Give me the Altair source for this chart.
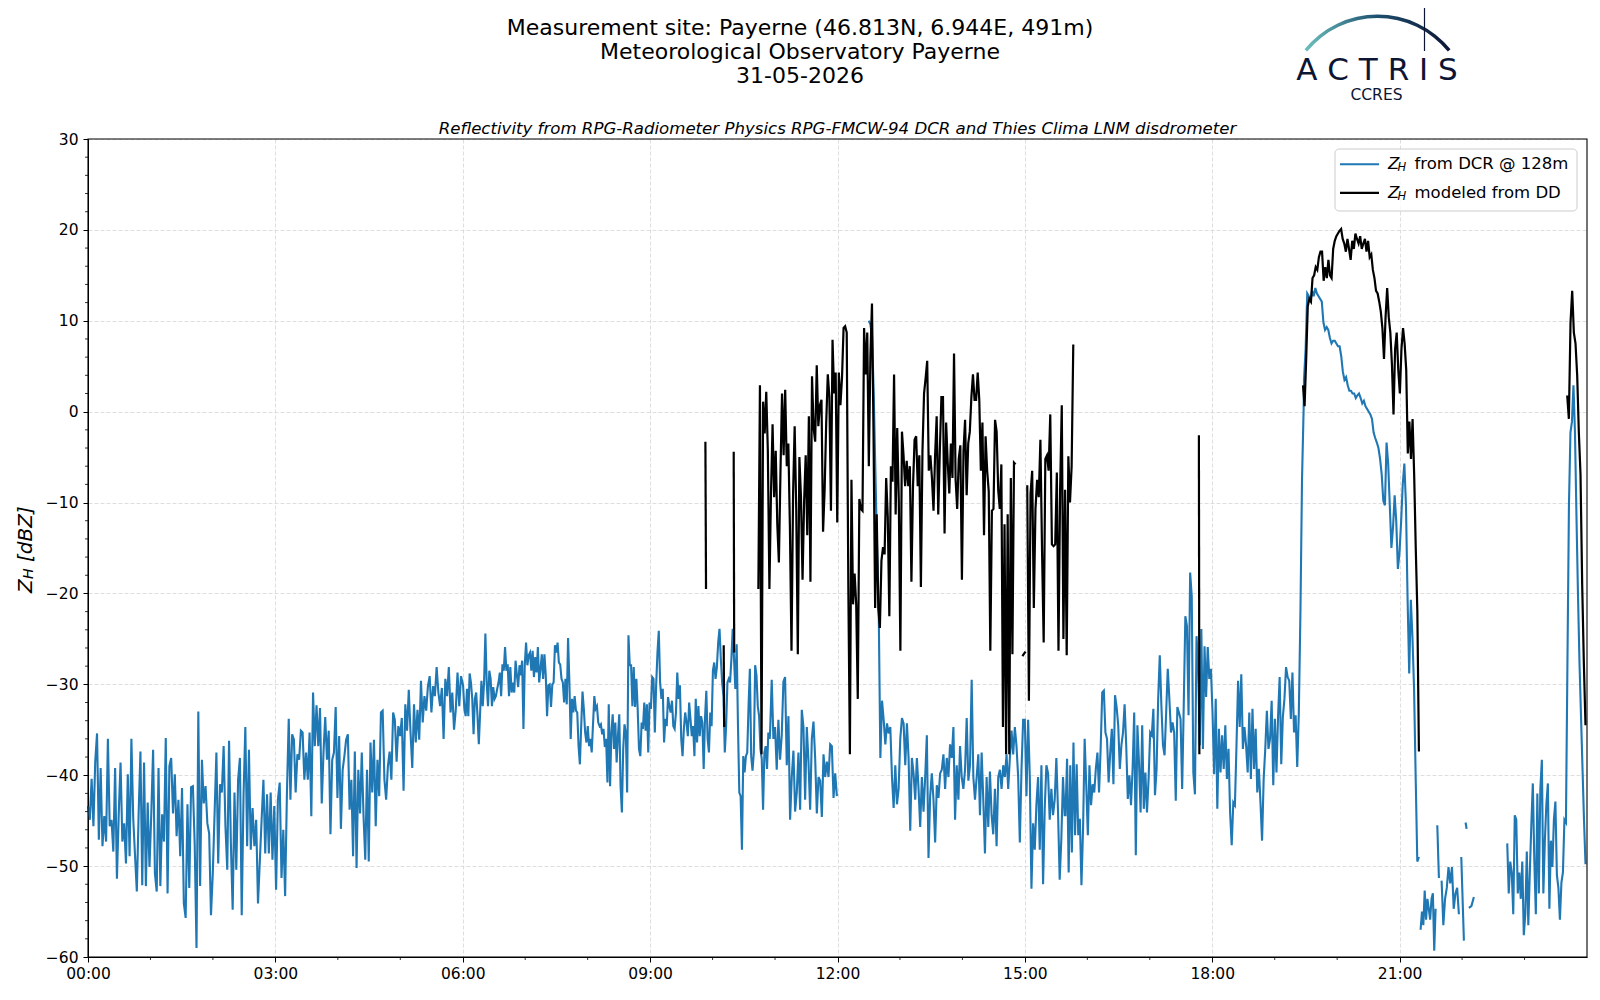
import numpy as np
import pandas as pd
import altair as alt

# ---------------- data (hours, dBZ) ----------------
blue_a1 = [-43.4,-44.9,-40.4,-45.6,-38.5,-35.4,-47.1,-39.2,-47.8,-44.5,-47.3,-36.0,-45.6,-44.9,-48.4,-39.2,-51.4,-44.2,-38.6,-47.3,
           -45.3,-49.7,-39.9,-48.9,-36.0,-44.7,-48.8,-52.8,-44.2,-37.4,-52.1,-38.6,-52.2,-43.0,-50.1,-44.2,-37.2,-50.8,-52.8,-39.2,
           -52.2,-44.3,-47.3,-35.9,-53.0,-39.0,-38.1,-44.2,-39.9,-46.7,-42.7,-48.9,-41.4,-54.1,-55.7,-43.2,-52.4,-41.3,-41.2,-47.6,
           -59.0,-33.0,-52.2,-38.3,-43.1,-41.2,-45.3,-46.4,-55.4,-50.8,-44.2,-37.5,-49.7,-41.0,-41.9,-36.8,-45.6,-50.4,-36.2,-47.5,
           -54.8,-41.9,-50.4,-40.5,-38.1,-55.4,-42.3,-34.7,-47.8,-37.2,-48.2,-43.6,-47.8,-44.9,-54.1,-49.5,-44.9,-40.5,-48.6,-42.1,
           -48.6,-41.9,-49.3,-43.4,-52.6,-42.7,-40.8,-51.3,-46.0,-53.3,-41.9,-33.8]
blue_a2 = [-42.7,-35.5,-36.1,-41.9,-37.7,-38.3,-35.1,-35.3,-40.5,-37.5,-40.5,-35.3,-44.5,-30.9,-36.8,-32.3,-36.8,-32.6,-43.1,-37.5,
           -33.6,-38.3,-35.1,-46.5,-38.3,-37.5,-32.5,-42.5,-35.7,-45.9,-39.4,-37.9,-36.1,-35.5,-43.8,-40.5,-48.9,-37.4,-50.2,-39.4,
           -44.2,-37.5,-44.5,-49.3,-39.4,-49.5,-36.4,-41.9,-36.1,-45.6,-38.3,-42.3,-33.1,-32.9,-40.5,-42.7,-39.0,-37.4,-40.5,-33.1,
           -33.9,-38.5,-34.6,-35.7,-33.7,-41.7,-32.2,-35.1,-30.6,-35.3,-39.2,-32.2,-36.4,-32.8,-36.1,-29.6,-34.2,-31.3,-32.9,-30.2,
           -29.1,-33.1,-30.2,-31.3,-28.1,-30.9,-32.4,-30.4,-36.0,-29.4,-31.3,-28.1,-33.1,-30.9,-35.0,-32.8,-28.7,-32.4,-29.1]
blue_a3 = [-30.1,-32.7,-33.5,-30.5,-33.5,-28.8,-29.8,-31.6,-35.5,-31.6,-30.9,-33.5,-36.6,-33.1,-29.6,-32.4,-29.8,-24.4,-29.8,-32.4,
           -28.5,-29.4,-32.4,-30.3,-31.6,-31.3,-30.5,-29.8,-28.7,-31.3,-27.8,-28.5,-25.9,-28.5,-27.8,-31.3,-28.1,-30.9,-29.8,-30.9,
           -27.4,-29.0,-30.3,-27.9,-29.0,-27.4,-34.9,-27.9,-25.4,-27.9,-26.8,-26.5,-28.5,-26.3,-29.2,-27.0,-28.7,-25.9,-29.8,-28.3,
           -26.7,-29.4,-26.7,-29.0,-33.5,-30.1,-30.0,-32.5,-30.0,-29.8,-25.7,-26.5,-25.4,-27.6,-27.8,-29.4,-29.8,-32.0,-29.4,-32.2,
           -24.9,-29.8,-36.0,-31.6,-33.1,-31.3,-32.9,-33.1,-36.8,-38.8,-34.6,-30.8,-32.7,-35.3,-36.4,-34.6,-36.8,-36.0,-37.5,-34.4,
           -31.3,-32.7,-32.4,-34.2,-34.6,-34.4,-35.5,-34.9,-36.9,-36.0,-40.8,-32.2,-41.2,-35.3,-33.3,-37.1,-34.2,-38.6,-35.7,-33.3,
           -41.2,-44.1,-37.1,-34.4,-35.3,-41.9,-24.6,-27.9]
blue_a4 = [-27.9,-32.4,-28.1,-32.5,-29.4,-32.7,-37.1,-37.9,-34.2,-34.9,-32.0,-35.1,-32.2,-37.5,-32.0,-32.7,-29.2,-29.4,-35.3,-30.1,
           -26.5,-24.1,-29.8,-31.6,-30.5,-36.4,-33.8,-34.6,-31.4,-32.4,-33.1,-31.8,-34.6,-34.9,-33.1,-28.7,-31.6,-30.1,-36.0,-37.9,
           -34.9,-33.1,-34.2,-35.7,-32.0,-33.8,-35.7,-34.6,-37.9,-31.6,-36.4,-32.4,-35.7,-33.5,-34.2,-39.3,-33.8,-30.7,-36.0,-37.5,
           -33.1,-34.6,-28.5,-27.6,-29.4,-28.1,-25.4,-23.9,-27.2,-29.8,-31.3,-37.5,-34.6,-29.8,-29.4,-29.8,-27.2,-23.9,-27.2,-30.5,
           -25.6,-34.6,-41.9,-42.3,-48.2,-37.9,-39.7,-37.9,-37.5,-32.4,-28.3,-37.9,-39.5,-37.5,-27.9,-29.0,-32.4,-33.5,-37.1,-38.2,
           -43.8,-37.5,-36.8,-39.3,-35.3,-36.0]
blue_a5 = [-35.4,-29.5,-36.0,-34.7,-39.4,-33.9,-38.3,-35.6,-29.7,-29.2,-38.9,-33.5,-44.9,-40.2,-37.3,-44.0,-41.9,-37.5,-43.8,-32.8,
           -34.7,-42.7,-34.7,-38.5,-43.8,-36.0,-34.1,-38.1,-44.2,-40.2,-40.6,-44.6,-37.7,-40.2,-38.5,-40.2,-36.6,-36.8,-42.5,-39.8,
           -42.3]
blue_b1 = [10.0,9.6,8.3,2.0,-6.5,-14.9,-21.6,-38.1,-31.8,-33.9,-36.6,-34.3,-35.4,-34.7,-40.2,-43.6,-38.9,-43.2,-41.5,-36.0,
           -33.7,-34.3,-38.9,-34.3,-38.1,-46.1,-38.1,-39.8,-42.7,-38.1,-41.5,-45.7,-40.2,-44.0,-40.2,-35.6,-49.1,-42.3,-39.8,-42.7,
           -47.4,-41.1,-42.5,-39.8,-39.4,-37.7,-41.5,-38.1,-40.2,-36.6,-38.1,-34.7,-44.9,-38.9,-42.7,-36.8,-40.2,-41.5,-39.4,-33.7,
           -40.6,-38.9,-29.5,-40.2,-42.7,-40.2,-37.7,-44.4,-37.5,-42.7,-48.6,-40.2,-45.7,-39.6,-44.4,-46.5,-41.5,-47.8,-40.2,-39.4,
           -41.5,-38.9,-40.2,-37.7,-41.5,-38.1,-35.1,-37.7,-34.7,-36.8,-40.2,-47.4,-39.4,-33.9,-33.9,-42.3,-33.9,-40.2,-52.5,-45.3,
           -48.2,-43.2,-40.2,-48.2,-38.9,-52.0,-43.6,-38.9,-39.8,-44.9,-41.5,-44.4,-42.7,-38.1,-44.0,-51.5,-47.0,-40.2,-44.4]
blue_b2 = [-44.4,-38.2,-50.7,-38.9,-48.5,-36.4,-46.6,-38.8,-46.6,-44.8,-52.1,-45.9,-36.0,-41.1,-46.6,-38.9,-43.3,-41.0,-41.9,-39.3,
           -37.5,-41.9,-37.1,-30.9,-30.7,-35.3,-36.0,-40.8,-37.5,-34.9,-41.0,-31.2,-32.5,-34.5,-39.3,-36.7,-35.3,-32.2,-36.7,-42.6,
           -40.0,-43.3,-39.3,-33.1,-48.8,-34.5,-38.6,-44.1,-34.5,-43.7,-39.7,-44.1,-40.4,-35.3,-35.6,-32.7,-42.2,-39.3,-31.6,-26.8,
           -32.3,-36.7,-37.8,-33.1,-28.3,-31.6,-35.3,-34.2,-35.3,-42.8,-32.5,-33.1,-33.8,-41.5,-32.3,-22.5,-23.6,-33.4,-17.7,-20.3,
           -39.7,-42.1,-24.7,-27.9,-36.7,-23.9,-37.1,-25.8,-31.4,-25.9,-29.4,-28.3,-33.1,-39.9,-31.6,-43.7,-34.9,-39.7,-35.6,-39.3,
           -34.5,-40.4,-37.1,-44.1,-47.7,-43.0,-43.3,-36.7,-29.6,-34.7,-28.9,-37.1,-34.7,-36.7,-39.7,-33.1,-40.4,-32.7,-39.3,-34.9,
           -41.9,-39.3,-43.0,-47.2,-40.4,-37.1,-32.9,-37.1,-36.0,-31.8,-41.1,-33.8,-39.7,-33.6,-29.2,-38.8,-33.6,-31.6,-28.1,-29.2,
           -29.6,-33.8,-28.7,-35.3,-33.4,-39.1,-33.1,-22.1,-7.4,0.3]
blue_b3 = [3.5,6.9,13.0,12.7,12.1,13.3,12.7,13.6,13.0,12.7,12.4,12.1,9.8,9.0,9.3,9.0,8.1,7.5,7.8,7.8,
           7.5,7.2,7.2,6.1,4.4,3.5,3.8,2.9,2.3,2.3,2.0,2.0,1.5,1.8,2.0,1.5,0.9,1.2,0.6,0.3,
           0.0,-0.3,-0.8,-2.3,-2.9,-3.4,-4.0,-5.2,-6.9,-9.8,-10.3,-3.4,-5.7,-10.3,-15.0,-12.7,-9.2,-12.1,-17.3,-15.5,
           -12.1,-8.0,-5.7,-10.3,-20.7,-28.8,-20.7,-24.8,-30.5,-40.3,-49.5,-49.0]
blue_c1 = [-57.0,-55.0,-56.5,-52.7,-55.9,-53.6,-54.7,-55.9,-53.6,-53.0,-59.3,-54.7]
blue_c2 = [-45.5,-51.3]
blue_c3 = [-51.6,-56.5,-53.6,-52.4,-50.1,-51.9,-50.1,-54.7,-53.0,-52.4,-55.3]
blue_c4 = [-49.0,-58.2]
blue_c5 = [-45.2,-45.9]
blue_c6 = [-54.6,-54.4,-53.4]
blue_d1 = [-47.5,-53.0,-49.5,-50.7,-55.3,-44.4,-44.9,-53.0,-50.7,-53.6,-49.5,-57.6,-55.3,-48.4,-56.5,-50.7,-45.5,-40.9,-49.5,-55.3,
           -42.0,-53.0,-41.5,-38.3,-53.0,-47.2,-43.2,-40.9,-54.7,-47.2,-50.1,-44.9,-42.9,-51.0,-52.4,-55.9,-51.8,-50.7,-44.9,-45.2,
           -27.6,-10.3,-2.3,-1.1,2.9,-2.3,-11.5,-20.1,-27.6,-33.4,-39.2,-44.9,-49.8]

black_k1 = [-3.3,-19.5]
black_k2 = [-25.7,-34.7]
black_k3 = [-4.4,-26.5]
black_k4 = [-19.5,2.9,-37.7,1.1,-2.4,2.2,-4.3,-19.5,-9.0,-1.4,-9.4,-4.3,-12.4,-16.6,-6.7,2.0,-4.8,2.4,-6.0,-3.5,
            -12.8,-26.3,-9.0,-1.6,-10.7,-26.7,-5.0,-9.4,-18.5,-9.8,-4.8,-13.6,-0.5,-18.7,3.9,-1.8,-3.3,5.1,-1.6,0.7,
            1.3,-13.2,-8.6,-1.2,4.1,1.6,-10.9,7.9,2.0,4.3,-12.2,4.3,0.7,3.7,9.2,9.4,8.7,-19.1,-37.7,-7.5,
            -21.2,-17.8,-21.2,-31.6,-9.6,-10.7,-10.9,9.2,4.1,8.7,-6.0,6.1,11.9,-2.7,-21.6,-11.3,-21.6,-23.8,-16.4,-14.9,
            -15.7,-7.3,-11.5,-22.5,-6.0,-7.7,4.1,-11.3,-1.8,-9.8,-26.3,-2.2,-4.8,-8.2,-5.4,-8.2,-6.0,-18.7,-8.2,-3.1,
            -2.7,-8.2,-4.8,-19.3,-4.3,2.0,3.7,5.6,-6.5,-4.8,-7.3,-10.9,-4.8,-0.5,-11.3,-4.3,1.6,1.6,-13.4,-1.2,
            -5.6,-9.0,-3.5,-7.3,6.4,-7.5,-10.7,-5.2,-3.7,-18.5,-4.3,-0.9,-9.2,-3.5,-2.2,1.6,4.1,1.3,1.3,4.3,
            1.3,-6.5,-1.2,-13.6,-2.7,-6.5,-8.8,-26.3,-10.9,-10.7,-0.9,-2.2,-8.6,-10.7,-5.8,-34.7,-12.4,-37.7,-11.3,-37.7,
            -7.3,-26.7,-5.6,-5.8]
black_k5 = [-26.9,-26.4]
black_k6 = [-8.1,-31.8,-9.0,-6.5,-21.6,-10.7,-7.5,-9.4,-3.1,-15.3,-25.4,-5.2,-4.8,-6.5,-0.3,-14.6,-14.8,-14.6,-6.7,-26.3,
            -8.6,0.7,-25.0,-8.6,-26.8,-4.9,-10.0,-6.0,7.4]
black_k7 = [-2.6,-37.7]
black_k8 = [2.9,0.6,5.8,11.6,12.4,12.1,14.7,15.0,15.9,15.6,17.0,17.6,17.6,14.4,15.9,14.7,16.7,15.0,14.7,17.9,
            18.8,19.3,19.6,19.9,20.1,19.0,18.5,17.6,19.0,17.9,16.7,18.8,17.9,19.6,19.0,18.5,19.3,17.9,18.5,19.0,
            17.6,18.8,17.0,17.3,15.6,14.7,13.3,13.0,12.1,11.0,9.2,5.8,10.4,13.6,10.4,8.7,5.2,-0.3,6.9,8.7,
            4.6,2.0,6.9,9.2,7.5,4.6,-4.6,-1.1,-5.2,-0.8,-6.9,-15.0,-21.9,-37.4]
black_k9 = [1.8,-0.8,9.8,13.3,8.7,7.5,4.0,-2.3,-6.9,-19.0,-27.6,-34.5]

# (segment id, first hour, last hour, values)
blue_chunks = [
    ("b1", 0.000, 3.214, blue_a1), ("b1", 3.241, 5.972, blue_a2), ("b1", 6.005, 8.674, blue_a3),
    ("b1", 8.695, 10.914, blue_a4), ("b1", 10.920, 11.990, blue_a5),
    ("b2", 12.500, 15.637, blue_b1), ("b2", 15.650, 19.463, blue_b2), ("b2", 19.469, 21.309, blue_b3),
    ("b3", 21.336, 21.576, blue_c1), ("b4", 21.603, 21.629, blue_c2), ("b5", 21.672, 21.949, blue_c3),
    ("b6", 21.987, 22.029, blue_c4), ("b7", 22.056, 22.072, blue_c5), ("b8", 22.109, 22.189, blue_c6),
    ("b9", 22.723, 23.976, blue_d1),
]
black_chunks = [
    ("k1", 9.885, 9.895, black_k1), ("k2", 10.178, 10.186, black_k2), ("k3", 10.338, 10.346, black_k3),
    ("k4", 10.733, 14.851, black_k4), ("k5", 14.960, 15.010, black_k5), ("k6", 15.038, 15.775, black_k6),
    ("k7", 17.786, 17.794, black_k7), ("k8", 19.453, 21.309, black_k8), ("k9", 23.683, 23.976, black_k9),
]

x_major = [0, 3, 6, 9, 12, 15, 18, 21]
x_minor = [h for h in range(1, 24) if h % 3 != 0]
y_major = list(range(-60, 31, 10))
y_minor = [v for v in range(-58, 30, 2) if v % 10 != 0]

title_lines = ["Measurement site: Payerne (46.813N, 6.944E, 491m)",
               "Meteorological Observatory Payerne", "31-05-2026"]
subtitle = "Reflectivity from RPG-Radiometer Physics RPG-FMCW-94 DCR and Thies Clima LNM disdrometer"
legend_labels = ["from DCR @ 128m", "modeled from DD"]


def build(chunks):
    rows = []
    for seg, t0, t1, vals in chunks:
        for t, v in zip(np.linspace(t0, t1, len(vals)), vals):
            rows.append({"t": float(t), "v": float(v), "seg": seg})
    return pd.DataFrame(rows)


blue_df = build(blue_chunks)
black_df = build(black_chunks)

W, H = 1499, 818
FONT = "DejaVu Sans"
BLUE = "#1f77b4"
NAVY = "#0d1535"

xscale = alt.Scale(domain=[0, 24], nice=False, zero=False)
yscale = alt.Scale(domain=[-60, 30], nice=False, zero=False)

axis_common = dict(grid=True, gridColor="#d5d5d5", gridDash=[4, 2], gridWidth=0.8,
                   tickSize=5, tickColor="black", tickWidth=1, domainColor="black",
                   domainWidth=1, labelColor="black", labelFont=FONT, labelFontSize=15.5,
                   labelFlush=False, labelOverlap=False, labelBound=False, title=None)
x_axis = alt.Axis(values=x_major, labelPadding=4,
                  labelExpr="(datum.value < 10 ? '0' : '') + datum.value + ':00'", **axis_common)
y_axis = alt.Axis(values=y_major, labelPadding=5, format="d", **axis_common)

blue = alt.Chart(blue_df).mark_line(color=BLUE, strokeWidth=2.1).encode(
    x=alt.X("t:Q", scale=xscale, axis=x_axis),
    y=alt.Y("v:Q", scale=yscale, axis=y_axis),
    detail="seg:N",
)

black = alt.Chart(black_df).mark_line(color="black", strokeWidth=2.2).encode(
    x=alt.X("t:Q", scale=xscale, axis=x_axis),
    y=alt.Y("v:Q", scale=yscale, axis=y_axis),
    detail="seg:N",
)

ymin_df = pd.DataFrame({"v": y_minor})
xmin_df = pd.DataFrame({"t": x_minor})
yminor = alt.Chart(ymin_df).mark_rule(color="black", strokeWidth=0.8).encode(
    y=alt.Y("v:Q", scale=yscale, axis=y_axis), x=alt.value(-3), x2=alt.value(0))
xminor = alt.Chart(xmin_df).mark_rule(color="black", strokeWidth=0.8).encode(
    x=alt.X("t:Q", scale=xscale, axis=x_axis), y=alt.value(H), y2=alt.value(H + 3))

one = pd.DataFrame({"k": [0]})


def txt(text, x, y, **kw):
    return alt.Chart(one).mark_text(text=text, **kw).encode(x=alt.value(x), y=alt.value(y))


# plot frame drawn on top (like matplotlib spines)
frame = alt.Chart(one).mark_rect(fillOpacity=0, stroke="black", strokeWidth=1.1).encode(
    x=alt.value(0), x2=alt.value(W), y=alt.value(0), y2=alt.value(H))

# legend
leg_box = alt.Chart(one).mark_rect(fill="white", fillOpacity=0.8, stroke="#cccccc",
                                   strokeWidth=1, cornerRadius=4).encode(
    x=alt.value(1247), x2=alt.value(1489), y=alt.value(10), y2=alt.value(72))
leg_l1 = alt.Chart(one).mark_rule(color=BLUE, strokeWidth=2.1).encode(
    x=alt.value(1252), x2=alt.value(1291), y=alt.value(25.3))
leg_l2 = alt.Chart(one).mark_rule(color="black", strokeWidth=2.2).encode(
    x=alt.value(1252), x2=alt.value(1291), y=alt.value(53.9))
legend_layers = [leg_box, leg_l1, leg_l2]
for yy, lab in zip([25.3, 53.9], legend_labels):
    legend_layers += [
        txt("Z", 1300, yy, font=FONT, fontStyle="italic", fontSize=16.5, align="left", baseline="middle"),
        txt("H", 1309.5, yy + 4, font=FONT, fontStyle="italic", fontSize=11.5, align="left", baseline="middle"),
        txt(lab, 1326.5, yy, font=FONT, fontSize=16.5, align="left", baseline="middle"),
    ]

# y axis title Z_H [dBZ] (rotated)
ytitle = [
    txt("Z", -56.5, 454, font=FONT, fontStyle="italic", fontSize=20, angle=270, align="left", baseline="alphabetic"),
    txt("H", -55.5, 440, font=FONT, fontStyle="italic", fontSize=14, angle=270, align="left", baseline="alphabetic"),
    txt("[dBZ]", -56.5, 423, font=FONT, fontStyle="italic", fontSize=20, angle=270, align="left", baseline="alphabetic"),
]

# titles
titles = [txt(s, 712, y, font=FONT, fontSize=22, align="center", baseline="alphabetic")
          for s, y in zip(title_lines, [-103.8, -80.2, -56.5])]
titles.append(txt(subtitle, W / 2, -4.8, font=FONT, fontStyle="italic", fontSize=16.6,
                  align="center", baseline="alphabetic"))

# ACTRIS logo
arc = alt.Chart(one).mark_arc(
    theta=2 * np.pi - 0.89, theta2=2 * np.pi + 0.89, radius=94, radius2=90.5,
    fill=alt.Gradient(gradient="linear",
                      stops=[alt.GradientStop(color="#6cc0bd", offset=0),
                             alt.GradientStop(color="#1d4f6e", offset=0.5),
                             alt.GradientStop(color=NAVY, offset=1)],
                      x1=0, x2=1, y1=0, y2=0)).encode(x=alt.value(1289.5), y=alt.value(-30.5))
logo_bar = alt.Chart(one).mark_rule(color=NAVY, strokeWidth=1.2).encode(
    x=alt.value(1336.5), y=alt.value(-137), y2=alt.value(-88))
logo = [arc, logo_bar,
        txt("A C T R I S", 1289, -59.4, font=FONT, fontSize=31, color=NAVY, align="center",
            baseline="alphabetic"),
        txt("CCRES", 1288.5, -38.7, font=FONT, fontSize=15.5, color=NAVY, align="center",
            baseline="alphabetic")]

chart = alt.layer(blue, black, yminor, xminor, frame, *legend_layers, *ytitle, *titles, *logo).properties(
    width=W, height=H,
    padding={"left": 80, "top": 131, "right": 5, "bottom": 40},
    autosize=alt.AutoSizeParams(type="none"),
    background="white",
).configure_view(stroke=None)

chart.save("out.html", embed_options={"renderer": "svg", "actions": False})
